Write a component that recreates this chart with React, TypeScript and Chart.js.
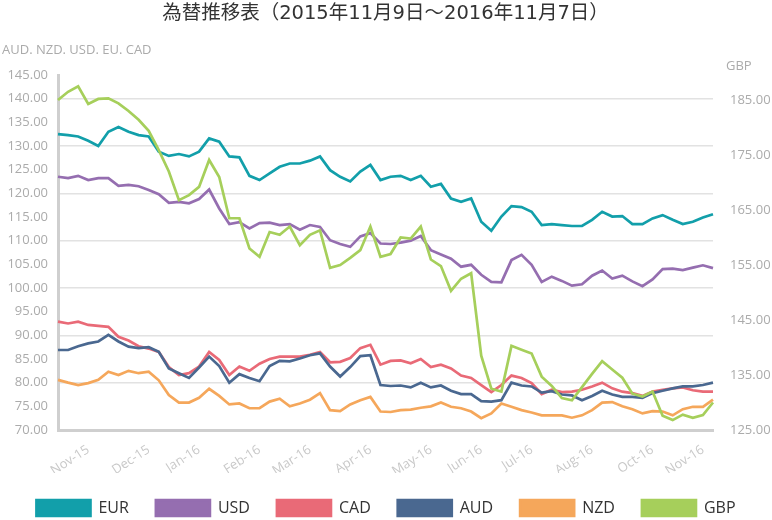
import React, { useEffect, useRef } from "react";
import { Chart, registerables } from "chart.js";

Chart.register(...registerables);

// Month label for each sampled trading day (every 4th business day)
const monthRuns: [string, number][] = [
  ["Nov-15", 6], ["Dec-15", 5], ["Jan-16", 5], ["Feb-16", 5], ["Mar-16", 6],
  ["Apr-16", 5], ["May-16", 6], ["Jun-16", 5], ["Jul-16", 5], ["Aug-16", 6],
  ["Sep-16", 4], ["Oct-16", 5], ["Nov-16", 3],
];
const xLabels: string[] = monthRuns.flatMap(([m, n]) => Array(n).fill(m));

// Points whose month label is shown on the axis
const xTickIndex = [3, 9, 14, 20, 25, 31, 37, 42, 47, 53, 59, 64];

// Right-hand axis (GBP) ticks
const gbpTicks = [125, 135, 145, 155, 165, 175, 185];

const eur = [
  132.5, 132.3, 132.0, 131.1, 130.0, 133.0, 134.0, 133.0, 132.3, 132.0,
  128.8, 127.9, 128.3, 127.8, 128.8, 131.6, 130.9, 127.8, 127.6, 123.7,
  122.8, 124.2, 125.6, 126.3, 126.3, 126.9, 127.8, 124.9, 123.5, 122.5,
  124.6, 126.0, 122.8, 123.5, 123.7, 122.8, 123.7, 121.4, 122.0, 118.9,
  118.2, 118.9, 114.0, 112.1, 115.1, 117.3, 117.1, 116.1, 113.3, 113.5,
  113.3, 113.1, 113.1, 114.4, 116.1, 115.1, 115.2, 113.5, 113.5, 114.7,
  115.4, 114.4, 113.5, 114.0, 114.9, 115.6,
];

const usd = [
  123.5, 123.2, 123.7, 122.8, 123.2, 123.2, 121.6, 121.8, 121.5, 120.7,
  119.8, 118.0, 118.2, 117.9, 118.8, 120.8, 116.8, 113.5, 113.9, 112.6,
  113.7, 113.8, 113.3, 113.5, 112.3, 113.3, 112.9, 110.1, 109.3, 108.7,
  110.9, 111.6, 109.4, 109.3, 109.6, 110.0, 111.0, 108.0, 107.1, 106.2,
  104.5, 104.9, 102.8, 101.3, 101.2, 105.9, 107.0, 104.9, 101.3, 102.4,
  101.5, 100.5, 100.8, 102.6, 103.7, 102.0, 102.6, 101.4, 100.4, 101.8,
  104.0, 104.1, 103.8, 104.3, 104.8, 104.2,
];

const cad = [
  92.9, 92.5, 92.9, 92.2, 92.0, 91.8, 89.7, 88.9, 87.7, 87.2,
  86.5, 83.3, 81.6, 82.0, 83.4, 86.5, 84.8, 81.6, 83.4, 82.5,
  84.0, 85.0, 85.5, 85.5, 85.5, 85.9, 86.5, 84.3, 84.4, 85.2,
  87.3, 88.0, 83.8, 84.6, 84.7, 84.1, 85.0, 83.3, 83.8, 83.0,
  81.5, 81.0, 79.5, 78.0, 79.5, 81.5, 81.0, 79.9, 77.6, 78.5,
  78.0, 78.1, 78.5, 79.2, 80.0, 78.8, 78.1, 77.8, 77.2, 78.1,
  78.5, 78.8, 79.0, 78.4, 78.1, 78.1,
];

const aud = [
  86.9, 86.9, 87.7, 88.3, 88.7, 90.1, 88.7, 87.6, 87.3, 87.5,
  86.5, 83.0, 82.0, 81.0, 83.2, 85.5, 83.5, 80.0, 81.8, 81.0,
  80.3, 83.5, 84.6, 84.5, 85.1, 85.8, 86.2, 83.4, 81.3, 83.3,
  85.6, 85.8, 79.5, 79.3, 79.4, 79.0, 80.0, 79.0, 79.4, 78.3,
  77.6, 77.6, 76.1, 76.0, 76.3, 80.0, 79.4, 79.2, 77.9, 78.2,
  77.5, 77.3, 76.3, 77.2, 78.3, 77.5, 77.0, 77.0, 76.8, 77.8,
  78.3, 78.8, 79.2, 79.2, 79.5, 80.0,
];

const nzd = [
  80.6, 80.0, 79.5, 79.9, 80.6, 82.3, 81.6, 82.5, 82.0, 82.3,
  80.5, 77.4, 75.8, 75.8, 76.8, 78.7, 77.2, 75.4, 75.6, 74.6,
  74.6, 76.0, 76.6, 75.0, 75.6, 76.4, 77.8, 74.2, 74.0, 75.4,
  76.3, 77.0, 73.9, 73.8, 74.2, 74.3, 74.7, 75.0, 75.8, 74.9,
  74.6, 73.9, 72.5, 73.5, 75.6, 74.9, 74.2, 73.7, 73.1, 73.1,
  73.1, 72.6, 73.1, 74.2, 75.8, 75.9, 75.0, 74.4, 73.5, 74.0,
  73.9, 73.1, 74.4, 74.9, 74.9, 76.4,
];

const gbp = [
  185.0, 186.5, 187.5, 184.3, 185.2, 185.3, 184.4, 183.0, 181.4, 179.4,
  175.9, 172.0, 166.8, 167.7, 169.2, 174.1, 171.0, 163.5, 163.5, 158.0,
  156.5, 161.0, 160.5, 162.0, 158.6, 160.5, 161.3, 154.5, 155.0, 156.3,
  157.7, 162.0, 156.5, 157.0, 160.0, 159.8, 162.0, 156.0, 154.8, 150.3,
  152.5, 153.5, 138.5, 132.5, 132.0, 140.3, 139.6, 138.9, 134.7, 133.0,
  130.8, 130.4, 132.8, 135.2, 137.5, 136.0, 134.5, 131.6, 131.1, 132.0,
  127.6, 126.8, 127.8, 127.2, 127.7, 130.0,
];

const FONT = "'Open Sans', 'Noto Sans', sans-serif";
const AXIS_TEXT = "#ababab";

// Horizontal captions above the two value axes
const axisCaptions = {
  id: "axisCaptions",
  afterDraw(chart: Chart) {
    const { ctx, chartArea } = chart;
    ctx.save();
    ctx.fillStyle = AXIS_TEXT;
    ctx.font = `13px ${FONT}`;
    ctx.textBaseline = "middle";
    ctx.textAlign = "left";
    ctx.fillText("AUD. NZD. USD. EU. CAD", 2, chartArea.top - 25);
    ctx.fillText("GBP", chartArea.right + 13, chartArea.top - 9);
    ctx.restore();
  },
};

export default function App() {
  const canvasRef = useRef<HTMLCanvasElement | null>(null);

  useEffect(() => {
    if (!canvasRef.current) return;
    const line = (label: string, data: number[], color: string, order: number, axis = "y") => ({
      label,
      data,
      borderColor: color,
      backgroundColor: color,
      borderWidth: 2.7,
      pointRadius: 0,
      pointHoverRadius: 0,
      tension: 0,
      fill: false,
      order,
      yAxisID: axis,
    });

    const chart = new Chart(canvasRef.current, {
      type: "line",
      data: {
        labels: xLabels,
        datasets: [
          line("EUR", eur, "#129FAA", 6),
          line("USD", usd, "#956EB0", 5),
          line("CAD", cad, "#E96A77", 4),
          line("AUD", aud, "#4A6890", 3),
          line("NZD", nzd, "#F5A75B", 2),
          line("GBP", gbp, "#A6CF5B", 1, "y1"),
        ],
      },
      options: {
        responsive: false,
        animation: false,
        layout: { padding: { left: 0, right: 0, top: 0, bottom: -6 } },
        plugins: {
          title: {
            display: true,
            fullSize: false,
            text: "為替推移表（2015年11月9日～2016年11月7日）",
            color: "#333333",
            font: { family: "'DejaVu Sans', 'Noto Sans CJK JP', sans-serif", size: 19.5, weight: "normal" },
            padding: { top: 2, bottom: 49.6 },
          },
          legend: {
            position: "bottom",
            labels: {
              boxWidth: 54,
              boxHeight: 16,
              padding: 27,
              color: "#333333",
              font: { family: FONT, size: 16 },
              sort: (a: any, b: any) => a.datasetIndex - b.datasetIndex,
            },
          },
          tooltip: { enabled: false },
        },
        scales: {
          x: {
            type: "category",
            grid: { display: false },
            border: { display: true, color: "#cfcfcf", width: 3 },
            ticks: {
              autoSkip: false,
              minRotation: 33,
              maxRotation: 33,
              color: "#c9c9c9",
              font: { family: FONT, size: 13 },
              padding: 4,
            },
            afterBuildTicks: (s: any) => {
              s.ticks = xTickIndex.map((v) => ({ value: v }));
            },
            afterFit: (s: any) => {
              s.height = 43;
            },
          },
          y: {
            position: "left",
            min: 70,
            max: 145,
            ticks: {
              stepSize: 5,
              color: AXIS_TEXT,
              font: { family: FONT, size: 13 },
              padding: 10,
              callback: (v: any) => Number(v).toFixed(2),
            },
            grid: {
              drawTicks: false,
              lineWidth: 1.5,
              color: (c: any) => (c.tick && c.tick.value % 10 === 0 ? "#e2e2e2" : "rgba(0,0,0,0)"),
            },
            border: { display: true, color: "#cfcfcf", width: 3 },
            afterFit: (s: any) => {
              s.width = 58;
            },
          },
          y1: {
            position: "right",
            min: 125,
            max: 189.55,
            afterBuildTicks: (s: any) => {
              s.ticks = gbpTicks.map((v) => ({ value: v }));
            },
            ticks: {
              color: AXIS_TEXT,
              font: { family: FONT, size: 13 },
              padding: 17,
              callback: (v: any) => Number(v).toFixed(2),
            },
            grid: { display: false, drawTicks: false },
            border: { display: false },
            afterFit: (s: any) => {
              s.width = 59;
            },
          },
        },
      } as any,
      plugins: [axisCaptions],
    });
    return () => chart.destroy();
  }, []);

  return (
    <div style={{ position: "absolute", left: 0, top: 0, width: 772, height: 520, background: "#fff" }}>
      <canvas ref={canvasRef} width={772} height={520} />
    </div>
  );
}
